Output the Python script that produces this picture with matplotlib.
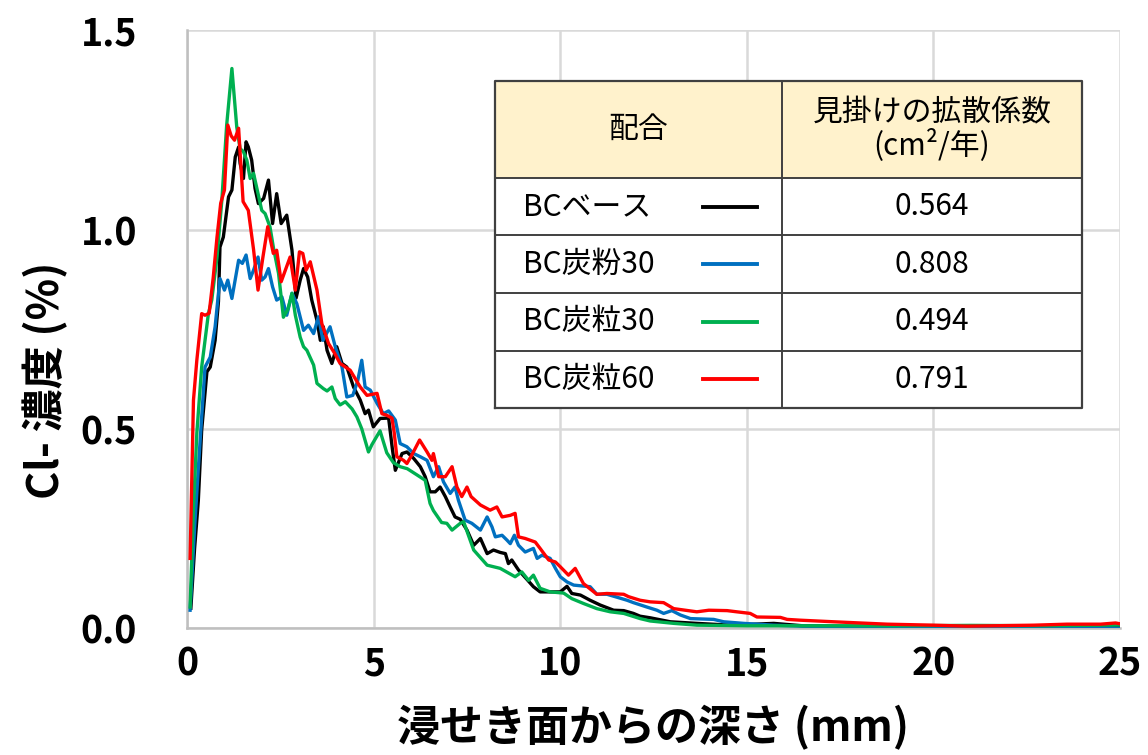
import numpy as np
import matplotlib
matplotlib.use("Agg")
import matplotlib.pyplot as plt
from matplotlib.patches import Rectangle
from matplotlib.lines import Line2D

plt.rcParams['font.family'] = ['Noto Sans CJK JP', 'DejaVu Sans']

# depth (mm) / Cl- concentration (%)
x_base = [0.10, 0.20, 0.30, 0.39, 0.53, 0.62, 0.75, 0.84, 0.88, 0.97, 1.11, 1.20, 1.29, 1.38, 1.42, 1.51, 1.58, 1.64, 1.73, 1.82,
          1.91, 2.05, 2.18, 2.29, 2.40, 2.52, 2.67, 2.81, 2.92, 3.03, 3.12, 3.23, 3.34, 3.48, 3.57, 3.65, 3.75, 3.88, 4.01, 4.15,
          4.28, 4.46, 4.64, 4.77, 4.86, 4.99, 5.17, 5.40, 5.50, 5.58, 5.76, 5.89, 6.07, 6.25, 6.38, 6.51, 6.65, 6.78, 6.92, 7.05,
          7.18, 7.32, 7.50, 7.68, 7.86, 8.04, 8.21, 8.39, 8.53, 8.61, 8.70, 8.88, 9.11, 9.28, 9.46, 9.73, 10.00, 10.18, 10.31, 10.54,
          10.80, 11.07, 11.43, 11.70, 11.96, 12.14, 12.41, 12.95, 13.66, 14.56, 15.72, 16.50, 18.00, 20.00, 21.00, 22.00, 23.00, 24.00, 25.00]
y_base = [0.05, 0.20, 0.32, 0.497, 0.643, 0.655, 0.722, 0.82, 0.956, 0.981, 1.082, 1.099, 1.182, 1.207, 1.166, 1.128, 1.22, 1.207, 1.174, 1.103,
          1.065, 1.078, 1.124, 1.015, 1.09, 1.015, 1.036, 0.948, 0.828, 0.873, 0.902, 0.881, 0.823, 0.772, 0.722, 0.756, 0.697, 0.664, 0.706, 0.664,
          0.655, 0.605, 0.572, 0.538, 0.547, 0.505, 0.526, 0.527, 0.45, 0.396, 0.438, 0.442, 0.426, 0.405, 0.38, 0.342, 0.342, 0.354, 0.33, 0.304,
          0.279, 0.273, 0.246, 0.208, 0.225, 0.187, 0.196, 0.19, 0.187, 0.162, 0.171, 0.146, 0.122, 0.104, 0.091, 0.091, 0.091, 0.105, 0.087, 0.083,
          0.07, 0.058, 0.045, 0.044, 0.037, 0.03, 0.026, 0.016, 0.012, 0.0075, 0.012, 0.006, 0.004, 0.0, 0.002, 0.003, 0.0, 0.002, 0.004]

x_fun30 = [0.08, 0.20, 0.30, 0.39, 0.48, 0.62, 0.75, 0.84, 0.88, 1.00, 1.09, 1.20, 1.38, 1.48, 1.58, 1.69, 1.78, 1.90, 2.00, 2.09,
           2.18, 2.29, 2.40, 2.54, 2.67, 2.81, 2.94, 3.12, 3.25, 3.39, 3.52, 3.64, 3.83, 3.97, 4.15, 4.28, 4.44, 4.57, 4.68, 4.77,
           4.91, 5.09, 5.26, 5.40, 5.58, 5.71, 5.89, 6.07, 6.25, 6.43, 6.60, 6.74, 6.87, 7.05, 7.18, 7.27, 7.45, 7.63, 7.86, 8.04,
           8.17, 8.26, 8.44, 8.57, 8.66, 8.77, 8.88, 9.06, 9.28, 9.38, 9.51, 9.73, 9.87, 10.00, 10.18, 10.36, 10.80, 10.98, 11.25, 11.47,
           11.79, 11.96, 12.32, 12.59, 12.77, 12.99, 13.22, 13.49, 14.11, 14.38, 14.92, 15.72, 16.50, 18.00, 20.00, 22.00, 24.00, 25.00]
y_fun30 = [0.045, 0.25, 0.40, 0.53, 0.655, 0.68, 0.756, 0.84, 0.877, 0.848, 0.873, 0.827, 0.923, 0.915, 0.936, 0.877, 0.898, 0.931, 0.873, 0.881,
           0.902, 0.856, 0.823, 0.831, 0.785, 0.84, 0.814, 0.747, 0.76, 0.739, 0.781, 0.722, 0.756, 0.706, 0.655, 0.58, 0.584, 0.62, 0.672, 0.605,
           0.597, 0.564, 0.538, 0.545, 0.522, 0.463, 0.455, 0.438, 0.43, 0.421, 0.38, 0.405, 0.367, 0.338, 0.354, 0.321, 0.271, 0.263, 0.246, 0.279,
           0.254, 0.229, 0.233, 0.221, 0.212, 0.233, 0.208, 0.191, 0.2, 0.175, 0.183, 0.175, 0.15, 0.129, 0.116, 0.108, 0.104, 0.085, 0.085, 0.079,
           0.07, 0.064, 0.053, 0.045, 0.037, 0.044, 0.033, 0.024, 0.022, 0.016, 0.012, 0.0075, 0.005, 0.003, 0.001, 0.0, 0.002, 0.0]

x_ryu30 = [0.08, 0.17, 0.26, 0.39, 0.48, 0.57, 0.66, 0.80, 0.93, 1.06, 1.20, 1.33, 1.42, 1.51, 1.60, 1.69, 1.78, 1.87, 2.00, 2.09,
           2.22, 2.31, 2.45, 2.58, 2.70, 2.81, 2.90, 3.03, 3.12, 3.21, 3.39, 3.48, 3.65, 3.75, 3.88, 3.97, 4.10, 4.24, 4.42, 4.55,
           4.68, 4.86, 4.95, 5.17, 5.35, 5.53, 5.71, 5.90, 6.15, 6.38, 6.51, 6.60, 6.82, 6.96, 7.10, 7.32, 7.41, 7.55, 7.68, 8.04,
           8.39, 8.79, 8.97, 9.15, 9.28, 9.46, 9.73, 10.09, 10.31, 10.62, 10.98, 11.34, 11.70, 12.14, 12.41, 13.04, 13.66, 15.00, 17.00, 19.00,
           21.00, 23.00, 25.00]
y_ryu30 = [0.053, 0.30, 0.489, 0.655, 0.722, 0.789, 0.823, 0.93, 1.073, 1.262, 1.404, 1.257, 1.203, 1.195, 1.174, 1.128, 1.141, 1.103, 1.048, 1.04,
           1.007, 0.956, 0.89, 0.78, 0.80, 0.84, 0.785, 0.73, 0.706, 0.697, 0.66, 0.614, 0.601, 0.595, 0.605, 0.576, 0.56, 0.568, 0.55, 0.53,
           0.50, 0.442, 0.46, 0.495, 0.44, 0.415, 0.405, 0.40, 0.385, 0.371, 0.313, 0.295, 0.265, 0.263, 0.246, 0.263, 0.267, 0.23, 0.196, 0.158,
           0.15, 0.129, 0.141, 0.12, 0.133, 0.1, 0.091, 0.088, 0.074, 0.062, 0.049, 0.041, 0.037, 0.024, 0.018, 0.012, 0.0075, 0.006, 0.006, 0.006,
           0.007, 0.006, 0.008]

x_ryu60 = [0.08, 0.17, 0.26, 0.39, 0.48, 0.59, 0.70, 0.80, 0.90, 1.00, 1.09, 1.18, 1.27, 1.38, 1.50, 1.64, 1.78, 1.90, 2.03, 2.16,
           2.31, 2.40, 2.52, 2.64, 2.76, 2.90, 3.01, 3.10, 3.19, 3.30, 3.48, 3.61, 3.79, 3.95, 4.10, 4.37, 4.64, 4.82, 5.09, 5.22,
           5.35, 5.49, 5.55, 5.62, 5.80, 5.89, 6.02, 6.23, 6.43, 6.56, 6.60, 6.74, 6.92, 7.10, 7.23, 7.36, 7.50, 7.61, 7.86, 8.12,
           8.30, 8.44, 8.66, 8.79, 8.88, 9.06, 9.33, 9.46, 9.69, 9.87, 10.00, 10.22, 10.40, 10.62, 10.98, 11.25, 11.70, 11.83, 12.14, 12.41,
           12.77, 13.04, 13.35, 13.66, 13.98, 14.47, 14.73, 15.09, 15.27, 15.90, 16.08, 16.43, 17.33, 18.04, 18.76, 20.00, 20.90, 22.69, 23.58, 24.48,
           24.88, 25.00]
y_ryu60 = [0.175, 0.572, 0.672, 0.789, 0.785, 0.790, 0.880, 0.980, 1.066, 1.099, 1.262, 1.235, 1.224, 1.254, 1.070, 1.048, 0.950, 0.848, 0.930, 1.007,
           0.940, 0.948, 0.869, 0.900, 0.931, 0.848, 0.944, 0.940, 0.898, 0.919, 0.848, 0.764, 0.714, 0.690, 0.664, 0.647, 0.605, 0.584, 0.589, 0.538,
           0.534, 0.527, 0.490, 0.430, 0.421, 0.413, 0.434, 0.472, 0.442, 0.421, 0.438, 0.380, 0.380, 0.405, 0.354, 0.330, 0.354, 0.330, 0.309, 0.296,
           0.304, 0.279, 0.283, 0.288, 0.229, 0.225, 0.216, 0.200, 0.171, 0.166, 0.154, 0.133, 0.150, 0.112, 0.085, 0.087, 0.085, 0.079, 0.070, 0.066,
           0.064, 0.049, 0.045, 0.041, 0.045, 0.044, 0.041, 0.037, 0.028, 0.027, 0.022, 0.020, 0.016, 0.013, 0.010, 0.0075, 0.005, 0.0075, 0.010, 0.010,
           0.013, 0.011]

mix_names = ["BCベース", "BC炭粉30", "BC炭粒30", "BC炭粒60"]
diff_coef = ["0.564", "0.808", "0.494", "0.791"]
colors = ["#000000", "#0070C0", "#00B050", "#FF0000"]

fig = plt.figure(figsize=(11.48, 7.55), dpi=100)
ax = fig.add_axes([0.163, 0.168, 0.8126, 0.792])

series = [(x_base, y_base), (x_fun30, y_fun30), (x_ryu30, y_ryu30), (x_ryu60, y_ryu60)]
for (xs, ys), c in zip(series, colors):
    ax.plot(xs, ys, color=c, lw=2.4, zorder=3)

ax.set_xlim(0, 25)
ax.set_ylim(0, 1.5)
ax.set_xticks(np.arange(0, 26, 5))
ax.set_yticks([0.0, 0.5, 1.0, 1.5])
ax.set_yticklabels(["%.1f" % v for v in [0.0, 0.5, 1.0, 1.5]])
ax.grid(True, color="#D9D9D9", lw=1.8, zorder=0)
for s in ["top", "right"]:
    ax.spines[s].set_visible(False)
for s in ["left", "bottom"]:
    ax.spines[s].set_color("#BFBFBF")
    ax.spines[s].set_linewidth(1.8)
ax.tick_params(length=0, labelsize=27, pad=12)
ax.tick_params(axis="y", pad=36)
for lab in ax.get_xticklabels() + ax.get_yticklabels():
    lab.set_fontweight("bold")
ax.set_xlabel("浸せき面からの深さ (mm)", fontsize=31, fontweight="bold", va="center")
ax.xaxis.set_label_coords(0.4995, -0.167)
ax.set_ylabel("Cl- 濃度 (%)", fontsize=31, fontweight="bold", va="center")
ax.yaxis.set_label_coords(-0.152, 0.415)

# table inset
tax = fig.add_axes([0.4312, 0.4596, 0.5113, 0.4331])
tax.set_xlim(0, 1)
tax.set_ylim(0, 1)
tax.axis("off")
hdr = 0.2966
row_h = (1 - hdr) / 4
col = 0.489
tax.add_patch(Rectangle((0, 1 - hdr), 1, hdr, facecolor="#FFF2CC", edgecolor="none"))
tax.add_patch(Rectangle((0, 0), 1, 1 - hdr, facecolor="white", edgecolor="none"))
lc = "#404040"
tax.add_line(Line2D([0, 1, 1, 0, 0], [0, 0, 1, 1, 0], color=lc, lw=1.6, clip_on=False))
tax.add_line(Line2D([col, col], [0, 1], color=lc, lw=1.4))
for i in range(4):
    yy = 1 - hdr - i * row_h
    tax.add_line(Line2D([0, 1], [yy, yy], color=lc, lw=1.4))
tfs = 21.5
tax.text(col / 2, 1 - hdr / 2, "配合", ha="center", va="center", fontsize=tfs)
tax.text((col + 1) / 2, 1 - hdr / 2, "見掛けの拡散係数\n(cm²/年)", ha="center", va="center",
         fontsize=tfs, linespacing=1.0)
for i, (nm, val, c) in enumerate(zip(mix_names, diff_coef, colors)):
    yc = 1 - hdr - (i + 0.5) * row_h
    tax.text(0.048, yc, nm, ha="left", va="center", fontsize=tfs)
    tax.add_line(Line2D([0.354, 0.446], [yc, yc], color=c, lw=2.8))
    tax.text((col + 1) / 2, yc, val, ha="center", va="center", fontsize=tfs)

fig.savefig("out.png", dpi=100)
